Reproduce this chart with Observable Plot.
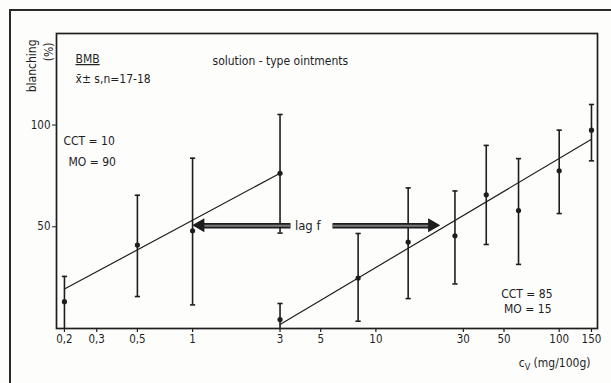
<!DOCTYPE html>
<html>
<head>
<meta charset="utf-8">
<script src="https://cdn.jsdelivr.net/npm/d3@7"></script>
<script src="https://cdn.jsdelivr.net/npm/@observablehq/plot@0.6"></script>
<style>
  html, body { margin: 0; padding: 0; background: #fdfdfc; }
  #wrap { position: relative; width: 611px; height: 383px; overflow: hidden; }
  #border { position: absolute; left: 9px; top: 9px; width: 610px; height: 380px;
            border-left: 2px solid #2a2a2a; border-top: 2px solid #2a2a2a; }
  #wrap svg { position: absolute; left: 0; top: 0; }
</style>
</head>
<body>
<div id="wrap"><div id="border"></div></div>
<script>
// Series A: CCT = 10, MO = 90
const concA = [0.2, 0.5, 1, 3];
const meanA = [13.2, 41, 48, 76.3];
const loA   = [0, 15.7, 11.6, 46.9];
const hiA   = [25.6, 65.5, 83.7, 105.2];
// Series B: CCT = 85, MO = 15
const concB = [3, 8, 15, 27, 40, 60, 100, 150];
const meanB = [4.4, 24.8, 42.5, 45.6, 65.7, 58, 77.5, 97.5];
const loB   = [0, 3.6, 14.7, 21.9, 41.3, 31.5, 56.5, 82.4];
const hiB   = [12.3, 46.7, 69.1, 67.6, 90, 83.5, 97.5, 110.1];
// Regression lines (end points)
const fitAx = [0.2, 3],  fitAy = [19.4, 76.3];
const fitBx = [3, 150],  fitBy = [2.0, 93];
// lag f arrows
const lagY = 50.5;
const lagLeft = [1.11, 3.42];   // tip, tail
const lagRight = [5.8, 20.4];   // tail, tip
const lagLabelX = 4.25;
// Axis ticks
const xTicks  = [0.2, 0.3, 0.5, 1, 3, 5, 10, 30, 50, 100, 150];
const xLabels = ["0,2", "0,3", "0,5", "1", "3", "5", "10", "30", "50", "100", "150"];
const yTicks  = [50, 100];

const A = concA.map((c, i) => ({c, m: meanA[i], lo: loA[i], hi: hiA[i]}));
const B = concB.map((c, i) => ({c, m: meanB[i], lo: loB[i], hi: hiB[i]}));
const pts = [...A, ...B];
const fits = [
  ...fitAx.map((x, i) => ({g: "A", x, y: fitAy[i]})),
  ...fitBx.map((x, i) => ({g: "B", x, y: fitBy[i]}))
];
const arrows = [
  {x1: lagLeft[0], x2: lagLeft[1]},
  {x1: lagRight[0], x2: lagRight[1]}
];
const heads = [
  {x: lagLeft[0], rot: -90, dx: 3},
  {x: lagRight[1], rot: 90, dx: -3}
];
const xTickData = xTicks.map((v, i) => ({v, label: xLabels[i]}));

const cap = {draw(ctx) { ctx.moveTo(-2.6, 0); ctx.lineTo(2.6, 0); }};
const vtick = {draw(ctx) { ctx.moveTo(0, 0); ctx.lineTo(0, 3.5); }};
const ink = "#1e1e1e";
const font = "DejaVu Sans Condensed";

const chart = Plot.plot({
  width: 611, height: 383,
  marginLeft: 56, marginRight: 14, marginTop: 33, marginBottom: 55,
  style: {fontFamily: font, fontSize: "11px", background: "transparent", color: ink},
  x: {type: "log", domain: [0.181, 161.8], axis: null},
  y: {domain: [0, 145]},
  marks: [
    Plot.frame({stroke: ink, strokeWidth: 1.7}),
    // x axis ticks and labels
    Plot.dot(xTickData, {x: "v", frameAnchor: "bottom", symbol: vtick, fill: "none", stroke: ink, strokeWidth: 1.2}),
    Plot.text(xTickData, {x: "v", text: "label", frameAnchor: "bottom", dy: 14, fontSize: 11.5, fill: ink}),
    Plot.axisY({ticks: yTicks, tickSize: 4, tickPadding: 2, label: null, fontSize: 11.5}),
    // error bars
    Plot.ruleX(pts, {x: "c", y1: "lo", y2: "hi", stroke: ink, strokeWidth: 1.6}),
    Plot.dot(pts, {x: "c", y: "hi", symbol: cap, fill: "none", stroke: ink, strokeWidth: 1.6}),
    Plot.dot(pts.filter(d => d.lo > 0), {x: "c", y: "lo", symbol: cap, fill: "none", stroke: ink, strokeWidth: 1.6}),
    Plot.dot(pts, {x: "c", y: "m", r: 2.6, fill: ink, stroke: "none"}),
    // fit lines
    Plot.line(fits, {x: "x", y: "y", z: "g", stroke: ink, strokeWidth: 1.2}),
    // lag f arrows
    Plot.link(arrows, {x1: "x1", x2: "x2", y1: lagY, y2: lagY, stroke: ink, strokeWidth: 5.5}),
    Plot.link(arrows, {x1: "x1", x2: "x2", y1: lagY, y2: lagY, stroke: "#7a7a7a", strokeWidth: 2.2}),
    Plot.dot(heads, {x: "x", y: lagY, dx: "dx", rotate: "rot", symbol: "triangle", r: 4.2, fill: ink, stroke: ink}),
    Plot.text([0], {x: lagLabelX, y: lagY, text: () => "lag f", fontSize: 13, fill: ink}),
    // annotations
    Plot.text(["blanching"], {frameAnchor: "top-left", dx: -29, dy: 6, rotate: -90, textAnchor: "end", fontSize: 12, fill: ink}),
    Plot.text(["(%)"], {frameAnchor: "top-left", dx: -12, dy: 9, rotate: -90, textAnchor: "end", fontSize: 12, fill: ink}),
    Plot.text(["BMB"], {frameAnchor: "top-left", dx: 19, dy: 21, textAnchor: "start", fontSize: 12, fill: ink}),
    Plot.text(["x\u0304\u00b1 s,n=17-18"], {frameAnchor: "top-left", dx: 19, dy: 41, textAnchor: "start", fontSize: 12, fill: ink}),
    Plot.text(["solution - type ointments"], {frameAnchor: "top-left", dx: 156, dy: 23, textAnchor: "start", fontSize: 12, fill: ink}),
    Plot.text(["CCT = 10"], {frameAnchor: "top-left", dx: 7, dy: 103, textAnchor: "start", fontSize: 12, fill: ink}),
    Plot.text(["MO = 90"], {frameAnchor: "top-left", dx: 12, dy: 124, textAnchor: "start", fontSize: 12, fill: ink}),
    Plot.text(["CCT = 85"], {frameAnchor: "bottom-right", dx: -45, dy: -31, textAnchor: "end", fontSize: 12, fill: ink}),
    Plot.text(["MO = 15"], {frameAnchor: "bottom-right", dx: -46, dy: -16, textAnchor: "end", fontSize: 12, fill: ink}),
    Plot.text(["cV (mg/100g)"], {frameAnchor: "bottom-right", dx: -7, dy: 38, textAnchor: "end", fontSize: 12, fill: ink})
  ]
});
const svg = d3.select(chart);
svg.selectAll("text")
  .filter(function() { return this.textContent === "BMB"; })
  .attr("text-decoration", "underline");
svg.selectAll("text")
  .filter(function() { return this.textContent === "cV (mg/100g)"; })
  .each(function() {
    const t = d3.select(this);
    t.text(null);
    t.append("tspan").text("c");
    t.append("tspan").attr("font-size", 9).attr("dy", 3).text("V");
    t.append("tspan").attr("dy", -3).text(" (mg/100g)");
  });
document.getElementById("wrap").appendChild(chart);
</script>
</body>
</html>
